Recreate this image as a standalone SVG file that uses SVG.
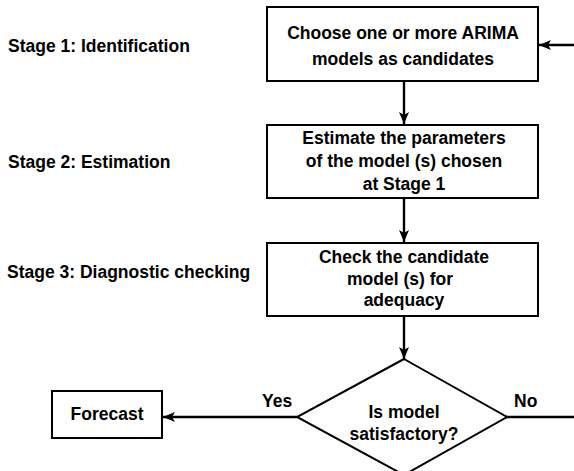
<svg xmlns="http://www.w3.org/2000/svg" width="574" height="471" viewBox="0 0 574 471">
<defs>
<style>
.box{fill:#fff;stroke:#000;stroke-width:2}
.ln{fill:none;stroke:#000;stroke-width:2.4}
text{font-family:"Liberation Sans",Arial,sans-serif;font-size:17.5px;font-weight:bold;fill:#000}
.c{text-anchor:middle}
</style>
<marker id="ah" viewBox="0 0 12 10" refX="12" refY="5" markerWidth="12" markerHeight="10" markerUnits="userSpaceOnUse" orient="auto">
<path d="M0,0 L12,5 L0,10 L3,5 Z" fill="#000"/>
</marker>
</defs>
<rect width="574" height="471" fill="#fff"/>
<g id="labels">
<text x="8" y="52">Stage 1: Identification</text>
<text x="8" y="168">Stage 2: Estimation</text>
<text x="7" y="278">Stage 3: Diagnostic checking</text>
</g>
<g id="connectors">
<line class="ln" x1="404" y1="81" x2="404" y2="124" marker-end="url(#ah)"/>
<line class="ln" x1="404" y1="198" x2="404" y2="242" marker-end="url(#ah)"/>
<line class="ln" x1="404" y1="316" x2="404" y2="359" marker-end="url(#ah)"/>
<line class="ln" x1="297" y1="417" x2="163" y2="417" marker-end="url(#ah)"/>
<line class="ln" x1="505" y1="417" x2="574" y2="417"/>
<line class="ln" x1="574" y1="45" x2="539" y2="45" marker-end="url(#ah)"/>
<text x="262" y="407">Yes</text>
<text x="514" y="407">No</text>
</g>
<g id="identify">
<rect class="box" x="267" y="7" width="271" height="74"/>
<text class="c" x="403" y="39">Choose one or more ARIMA</text>
<text class="c" x="403" y="65">models as candidates</text>
</g>
<g id="estimate">
<rect class="box" x="267" y="125" width="271" height="73"/>
<text class="c" x="404" y="144">Estimate the parameters</text>
<text class="c" x="404" y="167">of the model (s) chosen</text>
<text class="c" x="404" y="190">at Stage 1</text>
</g>
<g id="check">
<rect class="box" x="267" y="243" width="271" height="73"/>
<text class="c" x="404" y="263">Check the candidate</text>
<text class="c" x="400" y="285">model (s) for</text>
<text class="c" x="404" y="306">adequacy</text>
</g>
<g id="decision">
<polygon class="box" points="404,359 507,417 404,475 297,417"/>
<text class="c" x="404" y="418">Is model</text>
<text class="c" x="404" y="440">satisfactory?</text>
</g>
<g id="forecast">
<rect class="box" x="52" y="391" width="110" height="47"/>
<text class="c" x="107" y="420">Forecast</text>
</g>
</svg>
